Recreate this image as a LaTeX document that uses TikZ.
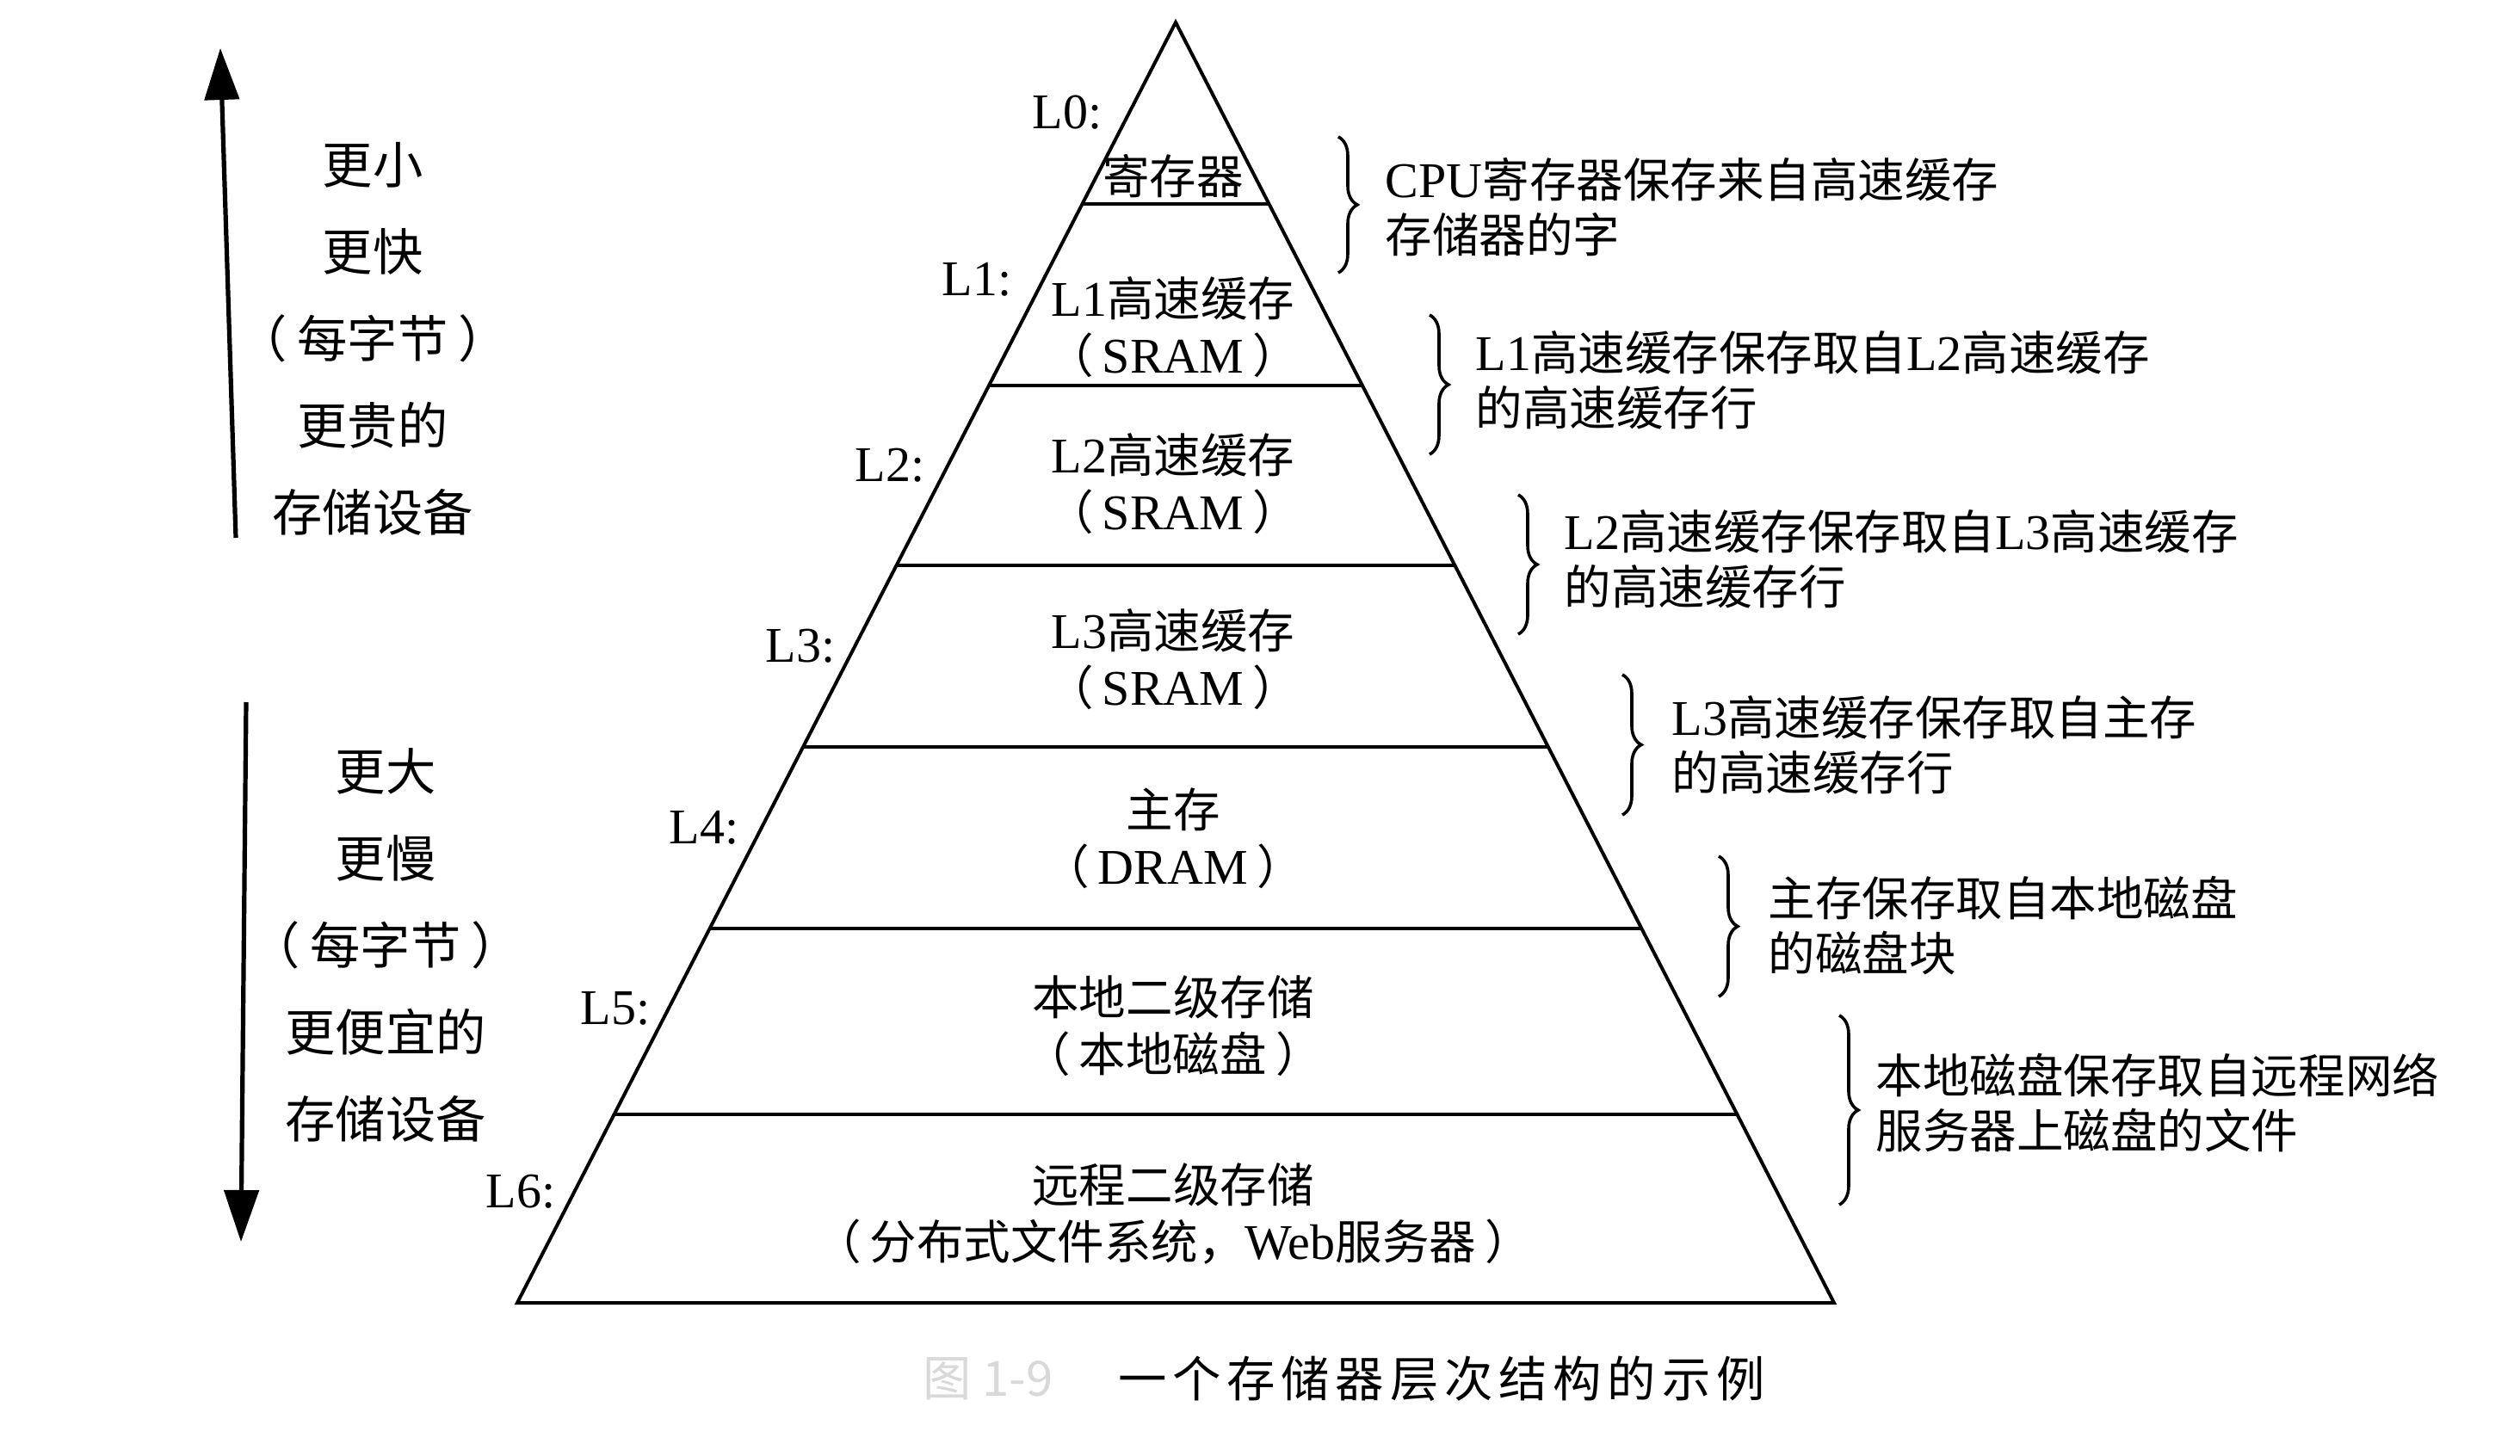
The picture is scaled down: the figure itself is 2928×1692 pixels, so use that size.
\documentclass[tikz,border=0pt]{standalone}
\usepackage{fontspec}
\setmainfont{Liberation Serif}
\newfontfamily\cjk[Scale=0.94]{Noto Sans CJK SC}
\newfontfamily\cjkcap[Scale=0.94,LetterSpace=12]{Noto Sans CJK SC}
\usetikzlibrary{calc,arrows.meta,decorations.pathreplacing}
\lineskiplimit=-10pt\relax
\newcommand\gapa{\hspace{2.5pt}}
\begin{document}
\begin{tikzpicture}[x=0.25pt,y=-0.25pt,
  edgeline/.style={line width=1pt},
  lvl/.style={font=\fontsize{14.5}{17}\selectfont, anchor=east, inner sep=0pt},
  inlbl/.style={font=\fontsize{14.5}{16.5}\selectfont, align=center, inner sep=0pt},
  side/.style={font=\fontsize{15.5}{25.25}\selectfont\cjk, align=center, inner sep=0pt},
  note/.style={font=\fontsize{14.5}{16}\selectfont, align=left, anchor=west, inner sep=0pt},
  brc/.style={decorate, decoration={brace, amplitude=5.5pt}, line width=0.9pt},
  bigarrow/.style={line width=1.3pt, -{Triangle[length=15pt,width=10pt]}}]
\useasboundingbox (0,0) rectangle (2928,1692);
% pyramid
\coordinate (apex) at (1366,26);
\coordinate (bl) at (601,1514);
\coordinate (br) at (2131,1514);
\draw[edgeline, line join=miter] (bl) -- (apex) -- (br) -- cycle;
\foreach \k/\t in {1/0.1418,2/0.2836,3/0.4241,4/0.5659,5/0.7077,6/0.8528}{
  \coordinate (l\k) at ($(apex)!\t!(bl)$);
  \coordinate (r\k) at ($(apex)!\t!(br)$);
  \draw[edgeline] (l\k) -- (r\k);
}
% level contents
\node[inlbl] (n0) at (1363,205) {{\cjk 寄存器}};
\node[inlbl] (n1) at (1363,380) {L1{\cjk 高速缓存}\\{\cjk （}\gapa SRAM\gapa{\cjk ）}};
\node[inlbl] (n2) at (1363,562) {L2{\cjk 高速缓存}\\{\cjk （}\gapa SRAM\gapa{\cjk ）}};
\node[inlbl] (n3) at (1363,766) {L3{\cjk 高速缓存}\\{\cjk （}\gapa SRAM\gapa{\cjk ）}};
\node[inlbl] (n4) at (1363,974) {{\cjk 主存}\\{\cjk （}\gapa DRAM\gapa{\cjk ）}};
\node[inlbl] (n5) at (1363,1192) {{\cjk 本地二级存储}\\{\cjk （\gapa 本地磁盘\gapa ）}};
\node[inlbl] (n6) at (1363,1410) {{\cjk 远程二级存储}\\{\cjk （\gapa 分布式文件系统，}Web{\cjk 服务器\gapa ）}};
% level labels
\node[lvl] (L0) at (1281,131) {L0:};
\node[lvl] (L1) at (1176,325) {L1:};
\node[lvl] (L2) at (1075,541) {L2:};
\node[lvl] (L3) at (971,751) {L3:};
\node[lvl] (L4) at (859,962) {L4:};
\node[lvl] (L5) at (756,1172) {L5:};
\node[lvl] (L6) at (646,1385) {L6:};
% left arrows and texts
\coordinate (upS) at (274,625); \coordinate (upE) at (256,56);
\draw[bigarrow] (upS) -- (upE);
\coordinate (dnS) at (286,816); \coordinate (dnE) at (280,1443);
\draw[bigarrow] (dnS) -- (dnE);
\node[side] (s1) at (433,394) {更小\\更快\\（\hspace{3pt}每字节\hspace{3pt}）\\更贵的\\存储设备};
\node[side] (s2) at (448,1098) {更大\\更慢\\（\hspace{3pt}每字节\hspace{3pt}）\\更便宜的\\存储设备};
% braces
\coordinate (b1a) at (1555,159); \coordinate (b1b) at (1555,317);
\coordinate (b2a) at (1661,366); \coordinate (b2b) at (1661,528);
\coordinate (b3a) at (1764,575); \coordinate (b3b) at (1764,737);
\coordinate (b4a) at (1885,784); \coordinate (b4b) at (1885,947);
\coordinate (b5a) at (1997,995); \coordinate (b5b) at (1997,1158);
\coordinate (b6a) at (2137,1180); \coordinate (b6b) at (2137,1400);
\foreach \i in {1,...,6}{\draw[brc] (b\i a) -- (b\i b);}
\node[note] (t1) at (1609,241) {CPU{\cjk 寄存器保存来自高速缓存}\\{\cjk 存储器的字}};
\node[note] (t2) at (1714,442) {L1{\cjk 高速缓存保存取自}L2{\cjk 高速缓存}\\{\cjk 的高速缓存行}};
\node[note] (t3) at (1817,650) {L2{\cjk 高速缓存保存取自}L3{\cjk 高速缓存}\\{\cjk 的高速缓存行}};
\node[note] (t4) at (1942,866) {L3{\cjk 高速缓存保存取自主存}\\{\cjk 的高速缓存行}};
\node[note] (t5) at (2054,1076) {{\cjk 主存保存取自本地磁盘}\\{\cjk 的磁盘块}};
\node[note] (t6) at (2179,1281) {{\cjk 本地磁盘保存取自远程网络}\\{\cjk 服务器上磁盘的文件}};
% caption
\node[font=\fontsize{15}{18}\selectfont\cjk, text=black!15] (fig) at (1148,1602) {图 1-9};
\node[font=\fontsize{15}{18}\selectfont\cjkcap] (cap) at (1675,1602) {一个存储器层次结构的示例};
\end{tikzpicture}
\end{document}
